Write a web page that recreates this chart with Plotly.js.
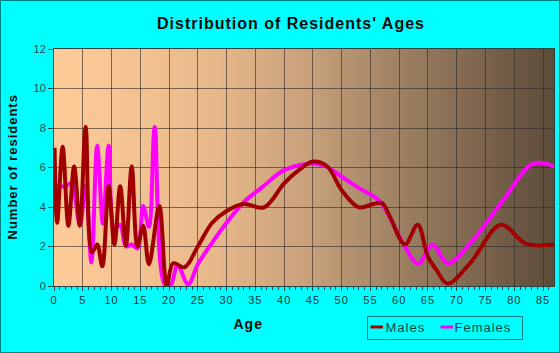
<!DOCTYPE html>
<html>
<head>
<meta charset="utf-8">
<script src="https://cdn.plot.ly/plotly-3.0.1.min.js"></script>
<style>
html,body{margin:0;padding:0;background:#00FFFF;}
#chart{width:560px;height:353px;}
#chart text{letter-spacing:1px;}
#chart .ytick text{letter-spacing:0px;}
</style>
</head>
<body>
<div id="chart"></div>
<script>
// ---- data ----
const maleAges = [0.1, 0.55, 1.5, 2.5, 3.5, 4.5, 5.5, 6.6, 7.5, 8.4, 9.5, 10.5, 11.5, 12.5, 13.5, 14.5, 15.5, 16.5, 18.3, 19.6, 20.7, 22.7, 25, 27.5, 30, 33, 36.5, 40, 42.5, 45, 47.5, 50, 53, 55.5, 57, 58.4, 61, 63.2, 65, 66.5, 68.4, 72.3, 77.7, 82, 87];
const maleCounts = [7.0, 3.2, 7.05, 3.05, 6.05, 3.05, 8.05, 1.7, 2.1, 1.0, 5.05, 2.1, 5.05, 2.05, 6.05, 2.0, 3.05, 1.1, 4.05, 0.0, 1.15, 0.95, 2.0, 3.2, 3.8, 4.15, 3.98, 5.2, 5.85, 6.3, 6.05, 4.85, 3.98, 4.15, 4.2, 3.5, 2.1, 3.1, 1.47, 0.8, 0.12, 1.15, 3.1, 2.15, 2.1];
const femaleAges = [0.1, 1, 2, 3, 4.5, 5.5, 6.5, 7.5, 8.5, 9.5, 10.5, 11.5, 12.5, 13.5, 14.5, 15.5, 16.5, 17.5, 19.2, 20.2, 21.5, 23.3, 25, 27.5, 30, 33, 36.3, 40, 45, 47.3, 50, 53.1, 56.6, 60.7, 63.3, 65.8, 68.4, 72.3, 78.1, 83.3, 87];
const femaleCounts = [5.1, 5.05, 5.05, 5.2, 3.1, 5.1, 1.2, 7.1, 3.15, 7.1, 2.9, 3.1, 2.0, 2.1, 1.9, 4.05, 3.0, 8.05, 0.1, 0.0, 1.05, 0.09, 1.1, 2.2, 3.2, 4.25, 5.03, 5.87, 6.2, 6.05, 5.53, 4.94, 4.3, 2.15, 1.12, 2.1, 1.15, 2.15, 4.35, 6.2, 6.05];
const xTickVals = [0, 5, 10, 15, 20, 25, 30, 35, 40, 45, 50, 55, 60, 65, 70, 75, 80, 85];
const yTickVals = [0, 2, 4, 6, 8, 10, 12];
const seriesNames = ["Males", "Females"];
const seriesColors = ["#A00000", "#FF00FF"];

const gradSvg = '<svg xmlns="http://www.w3.org/2000/svg" width="500" height="237" preserveAspectRatio="none">' +
  '<defs><linearGradient id="g" x1="0" y1="0" x2="1" y2="0">' +
  '<stop offset="0" stop-color="#FECC99"/>' +
  '<stop offset="0.3" stop-color="#EBBA8B"/>' +
  '<stop offset="0.52" stop-color="#C59F7A"/>' +
  '<stop offset="0.65" stop-color="#A78868"/>' +
  '<stop offset="1" stop-color="#5D4B3A"/>' +
  '</linearGradient></defs><rect width="500" height="237" fill="url(#g)"/></svg>';
const gradUri = 'data:image/svg+xml;charset=utf-8,' + encodeURIComponent(gradSvg);

const traces = [
  {x: maleAges, y: maleCounts, name: seriesNames[0], type: 'scatter', mode: 'lines',
   line: {color: seriesColors[0], width: 4, shape: 'spline', smoothing: 1}, cliponaxis: true, showlegend: false},
  {x: femaleAges, y: femaleCounts, name: seriesNames[1], type: 'scatter', mode: 'lines',
   line: {color: seriesColors[1], width: 4, shape: 'spline', smoothing: 1}, cliponaxis: true, showlegend: false}
];
// draw females under males
const data = [traces[1], traces[0]];

const W = 500, H = 237, L = 54, T = 49;
function px(p){ return (p - L) / W; }
function py(p){ return (T + H - p) / H; }

const layout = {
  width: 560, height: 353,
  margin: {l: 54, r: 6, t: 49, b: 67, pad: 0},
  paper_bgcolor: '#00FFFF',
  plot_bgcolor: 'rgba(0,0,0,0)',
  font: {family: 'Liberation Sans, Arial, sans-serif', size: 11, color: '#163434'},
  title: {
    text: "Distribution of Residents' Ages",
    font: {family: 'Liberation Sans, Arial, sans-serif', size: 16, weight: 'bold', color: '#0a0a0a'},
    x: 291/560, xref: 'container', xanchor: 'center',
    y: 1 - 23/353, yref: 'container', yanchor: 'middle'
  },
  xaxis: {
    range: [0, 86.9], tickvals: xTickVals, ticks: 'outside', ticklen: 4, tickcolor: '#1f5050', tickwidth: 1,
    showgrid: true, gridcolor: 'rgba(50,42,38,0.62)', gridwidth: 1,
    showline: true, linecolor: '#2b4545', linewidth: 1, mirror: true,
    zeroline: false,
    minor: {dtick: 1, ticks: 'outside', ticklen: 3, tickcolor: '#1f5050', showgrid: false},
    tickfont: {size: 11, color: '#163434'},
    fixedrange: true
  },
  yaxis: {
    range: [0, 12], tickvals: yTickVals, ticks: 'outside', ticklen: 5, tickcolor: '#1f5050',
    showgrid: true, gridcolor: 'rgba(50,42,38,0.62)', gridwidth: 1,
    showline: true, linecolor: '#2b4545', linewidth: 1, mirror: true,
    zeroline: false,
    tickfont: {size: 11, color: '#2a4a4a'},
    fixedrange: true
  },
  images: [{
    source: gradUri, xref: 'paper', yref: 'paper', x: 0, y: 1, sizex: 1, sizey: 1,
    xanchor: 'left', yanchor: 'top', sizing: 'stretch', layer: 'below'
  }],
  shapes: [
    // outer border
    {type: 'rect', xref: 'paper', yref: 'paper', x0: px(0.5), x1: px(559.5), y0: py(352.5), y1: py(0.5),
     line: {color: '#008080', width: 1}, fillcolor: 'rgba(0,0,0,0)', layer: 'above'},
    // legend box
    {type: 'rect', xref: 'paper', yref: 'paper', x0: px(367.5), x1: px(522.5), y0: py(339.5), y1: py(316.5),
     line: {color: '#0a7a7a', width: 1}, fillcolor: 'rgba(0,0,0,0)', layer: 'above'},
    {type: 'line', xref: 'paper', yref: 'paper', x0: px(370.5), x1: px(383), y0: py(327), y1: py(327),
     line: {color: seriesColors[0], width: 3}},
    {type: 'line', xref: 'paper', yref: 'paper', x0: px(440.5), x1: px(453), y0: py(327), y1: py(327),
     line: {color: seriesColors[1], width: 3}}
  ],
  annotations: [
    {text: 'Age', xref: 'paper', yref: 'paper', x: px(248), y: py(324), xanchor: 'center', yanchor: 'middle',
     showarrow: false, font: {family: 'Liberation Sans, Arial, sans-serif', size: 14, weight: 'bold', color: '#0a0a0a'}},
    {text: 'Number of residents', xref: 'paper', yref: 'paper', x: px(12), y: py(167), xanchor: 'center', yanchor: 'middle',
     textangle: -90, showarrow: false, font: {family: 'Liberation Sans, Arial, sans-serif', size: 13, weight: 'bold', color: '#0a0a0a'}},
    {text: seriesNames[0], xref: 'paper', yref: 'paper', x: px(386), y: py(327.5), xanchor: 'left', yanchor: 'middle',
     showarrow: false, font: {family: 'Liberation Sans, Arial, sans-serif', size: 13, color: '#164444'}},
    {text: seriesNames[1], xref: 'paper', yref: 'paper', x: px(456), y: py(327.5), xanchor: 'left', yanchor: 'middle',
     showarrow: false, font: {family: 'Liberation Sans, Arial, sans-serif', size: 13, color: '#164444'}}
  ],
  showlegend: false
};

Plotly.newPlot('chart', data, layout, {staticPlot: true, displayModeBar: false});
</script>
</body>
</html>
